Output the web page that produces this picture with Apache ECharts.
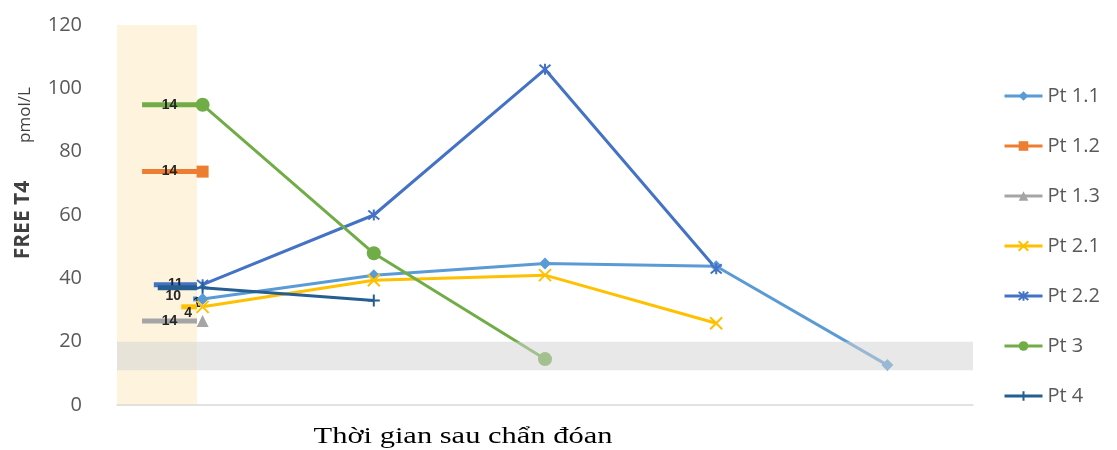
<!DOCTYPE html>
<html>
<head>
<meta charset="utf-8">
<script src="https://cdn.jsdelivr.net/npm/echarts@6/dist/echarts.min.js"></script>
<style>
  html, body { margin: 0; padding: 0; background: #fff; }
  #chart { width: 1117px; height: 450px; }
</style>
</head>
<body>
<div id="chart"></div>
<script>
const chart = echarts.init(document.getElementById("chart"));

// ==========================
// DATA
// ==========================

const patients = ["Pt 1.1", "Pt 1.2", "Pt 1.3", "Pt 2.1", "Pt 2.2", "Pt 3", "Pt 4"];
const timepoints = [1, 2, 3, 4, 5];

const pt11 = [33.5, 41, 44.7, 43.8, 12.6];
const pt12 = [73.7];
const pt13 = [26.5];
const pt21 = [31, 39.4, 41, 25.8];
const pt22 = [38, 60, 106, 43];
const pt3 = [94.8, 47.9, 14.5];
const pt4 = [37, 33];

// days before diagnosis (labels on the short bars in the shaded column)
const daysBefore = [1, 14, 14, 4, 11, 14, 10];

const normalRange = [11, 20];
const yTicks = [0, 20, 40, 60, 80, 100, 120];

// ==========================
// STYLE
// ==========================

const COLORS = ["#5B9BD5", "#ED7D31", "#A5A5A5", "#FFC000", "#4472C4", "#70AD47", "#255E91"];
const SYMBOLS = [
  "diamond",
  "rect",
  "triangle",
  "path://M0,0L10,10M10,0L0,10",
  "path://M0,0L10,10M10,0L0,10M5,-1L5,11",
  "circle",
  "path://M5,0L5,10M0,5L10,5"
];
const SYMBOL_SIZES = [12, 12, 12, 12, 11, 14, 12];
const SHADE_END = 0.967;   // right edge of the pre-diagnosis column
const DAY_W = 0.0229;      // x units per day
const LABEL_DY = [4, 0, 0, 6, -1, 0, 8];
const LABEL_DX = [2, 0, 0, -1, 0, 0, -4];

const allSeries = [pt11, pt12, pt13, pt21, pt22, pt3, pt4];

const lineSeries = patients.map((name, i) => {
  const isPath = SYMBOLS[i].startsWith("path://");
  return {
    name: name,
    type: "line",
    data: allSeries[i].map((v, k) => [timepoints[k], v]),
    symbol: SYMBOLS[i],
    symbolSize: SYMBOL_SIZES[i],
    showAllSymbol: true,
    lineStyle: { color: COLORS[i], width: 3 },
    itemStyle: isPath
      ? { color: COLORS[i], borderColor: COLORS[i], borderWidth: 2 }
      : { color: COLORS[i], borderWidth: 0 },
    z: 3
  };
});

const barSeries = {
  name: "days",
  type: "custom",
  data: patients.map((p, i) => [daysBefore[i], allSeries[i][0], i]),
  encode: { x: 0, y: 1 },
  z: 2,
  renderItem: (params, api) => {
    const days = api.value(0);
    const v = api.value(1);
    const i = api.value(2);
    const p0 = api.coord([SHADE_END - days * DAY_W, v]);
    const p1 = api.coord([SHADE_END, v]);
    return {
      type: "group",
      children: [
        {
          type: "rect",
          shape: { x: p0[0], y: p0[1] - 2.5, width: p1[0] - p0[0], height: 5 },
          style: { fill: COLORS[i] }
        },
        {
          type: "text",
          x: (p0[0] + p1[0]) / 2 + LABEL_DX[i],
          y: p0[1] + LABEL_DY[i],
          style: {
            text: String(days),
            fill: "#262626",
            font: "bold 14px 'Liberation Sans', Arial, sans-serif",
            align: "center",
            verticalAlign: "middle"
          }
        }
      ]
    };
  },
  markArea: {
    silent: true,
    z: 0,
    itemStyle: { color: "#FEF4DE" },
    data: [[{ xAxis: 0.5 }, { xAxis: SHADE_END }]]
  }
};

const bandSeries = {
  name: "normal",
  type: "line",
  data: [],
  z: 10,
  markArea: {
    silent: true,
    z: 10,
    itemStyle: { color: "rgba(211,211,211,0.52)" },
    data: [[{ yAxis: normalRange[0] }, { yAxis: normalRange[1] }]]
  }
};

chart.setOption({
  backgroundColor: "#fff",
  animation: false,
  grid: { left: 117, right: 144, top: 25, bottom: 45 },
  xAxis: {
    type: "value",
    min: 0.5,
    max: 5.5,
    axisLine: { show: true, lineStyle: { color: "#D9D9D9", width: 1.5 } },
    axisTick: { show: false },
    axisLabel: { show: false },
    splitLine: { show: false }
  },
  yAxis: {
    type: "value",
    min: yTicks[0],
    max: yTicks[yTicks.length - 1],
    interval: 20,
    axisLine: { show: false },
    axisTick: { show: false },
    splitLine: { show: false },
    axisLabel: {
      margin: 35,
      fontSize: 20,
      color: "#595959",
      fontFamily: "'Open Sans', sans-serif"
    }
  },
  legend: {
    data: patients,
    orient: "vertical",
    left: 998,
    top: 81,
    itemGap: 30,
    itemWidth: 38,
    itemHeight: 12,
    lineStyle: { width: 3 },
    textStyle: { fontSize: 20, color: "#595959", fontFamily: "'Open Sans', sans-serif" }
  },
  graphic: [
    {
      type: "text",
      x: 23, y: 220, rotation: Math.PI / 2,
      style: {
        text: "FREE T4", fill: "#404040",
        font: "bold 21px 'Open Sans', sans-serif",
        align: "center", verticalAlign: "middle"
      }
    },
    {
      type: "text",
      x: 25, y: 115, rotation: Math.PI / 2,
      style: {
        text: "pmol/L", fill: "#404040",
        font: "17px 'Open Sans', sans-serif",
        align: "center", verticalAlign: "middle"
      }
    },
    {
      type: "text",
      x: 463, y: 437, scaleX: 1.27,
      style: {
        text: "Thời gian sau chẩn đóan", fill: "#000",
        font: "24px 'Liberation Serif', 'DejaVu Serif', serif",
        align: "center", verticalAlign: "middle"
      }
    }
  ],
  series: [barSeries, ...lineSeries, bandSeries]
});
</script>
</body>
</html>
